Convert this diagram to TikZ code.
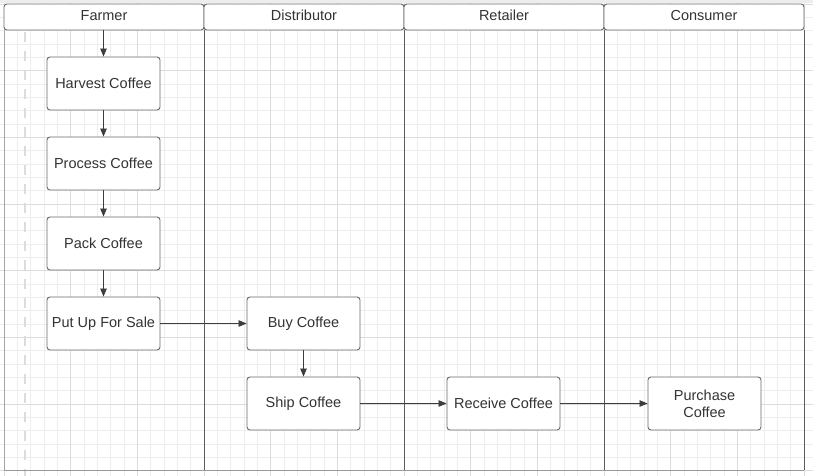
\documentclass[tikz,border=0pt]{standalone}
\usepackage{fontspec}
\setmainfont{Liberation Sans}
\usetikzlibrary{arrows.meta}
\definecolor{gridminor}{HTML}{EDEDED}
\definecolor{gridmajor}{HTML}{DCDCDC}
\definecolor{laneline}{HTML}{5C5C5C}
\definecolor{boxline}{HTML}{6A6A6A}
\definecolor{txt}{HTML}{333333}
\definecolor{conn}{HTML}{3D3D3D}
\tikzset{
  proc/.style={draw=boxline, line width=0.9pt, fill=white, rounded corners=3pt,
    minimum width=113pt, minimum height=53pt, inner sep=1pt, align=center,
    text=txt, font=\fontsize{14.5}{17}\selectfont},
  hdr/.style={draw=boxline, line width=0.9pt, fill=white, rounded corners=3pt,
    minimum width=200pt, minimum height=26pt, inner sep=0pt,
    text=txt, font=\fontsize{14.5}{17}\selectfont},
  hdrtext/.style={text=txt, font=\fontsize{14.5}{17}\selectfont, inner sep=0pt},
  flow/.style={draw=conn, line width=0.8pt, -{Triangle[length=8pt,width=6.5pt]}},
  lane/.style={draw=laneline, line width=0.9pt}
}
\begin{document}
\begin{tikzpicture}[x=1pt,y=-1pt]
\useasboundingbox (0,0) rectangle (813,476);
\fill[white] (0,0) rectangle (813,476);
% grid
\foreach \i in {-1,...,61} {
  \pgfmathsetmacro{\gx}{4+13.3333*\i}
  \draw[gridminor, line width=0.7pt] (\gx,0) -- (\gx,476);
}
\foreach \i in {-1,...,36} {
  \pgfmathsetmacro{\gy}{4+13.3333*\i}
  \draw[gridminor, line width=0.7pt] (0,\gy) -- (813,\gy);
}
\foreach \i in {0,...,12} {
  \pgfmathsetmacro{\gx}{4+66.6667*\i}
  \draw[gridmajor, line width=0.8pt] (\gx,0) -- (\gx,476);
}
\foreach \i in {0,...,7} {
  \pgfmathsetmacro{\gy}{4+66.6667*\i}
  \draw[gridmajor, line width=0.8pt] (0,\gy) -- (813,\gy);
}
\fill[gridminor] (0,0) rectangle (813,3);
% dashed line
\draw[gridmajor, line width=2.5pt, dash pattern=on 10pt off 9pt] (25,32) -- (25,476);
% lanes
\draw[lane, draw=gray!70] (4,30) -- (4,470);
\draw[lane] (204,30) -- (204,470);
\draw[lane] (404,30) -- (404,470);
\draw[lane] (604,30) -- (604,470);
\draw[lane] (804,30) -- (804,470);
\draw[draw=gray!80, line width=1.6pt] (4,470.5) -- (804,470.5);
% headers
\node[hdr] (h1) at (104,17) {};
\node[hdr] (h2) at (304,17) {};
\node[hdr] (h3) at (504,17) {};
\node[hdr] (h4) at (704,17) {};
\node[hdrtext] (t1) at (104,15.5) {Farmer};
\node[hdrtext] (t2) at (304,15.5) {Distributor};
\node[hdrtext] (t3) at (504,15.5) {Retailer};
\node[hdrtext] (t4) at (704,15.5) {Consumer};
% process nodes
\node[proc] (harvest) at (103.5,83.5) {Harvest Coffee};
\node[proc] (process) at (103.5,163.5) {Process Coffee};
\node[proc] (pack) at (103.5,243.5) {Pack Coffee};
\node[proc] (sale) at (103.5,323.5) {Put Up For Sale};
\node[proc] (buy) at (303.5,323.5) {Buy Coffee};
\node[proc] (ship) at (303.5,403.5) {Ship Coffee};
\node[proc] (receive) at (503.5,403.5) {Receive Coffee};
\node[proc] (purchase) at (704.5,403.5) {Purchase\\Coffee};
% connectors
\coordinate (start) at (103.5,30);
\draw[flow] (start) -- (harvest.north);
\draw[flow] (harvest) -- (process);
\draw[flow] (process) -- (pack);
\draw[flow] (pack) -- (sale);
\draw[flow] (sale) -- (buy);
\draw[flow] (buy) -- (ship);
\draw[flow] (ship) -- (receive);
\draw[flow] (receive) -- (purchase);
\end{tikzpicture}
\end{document}
